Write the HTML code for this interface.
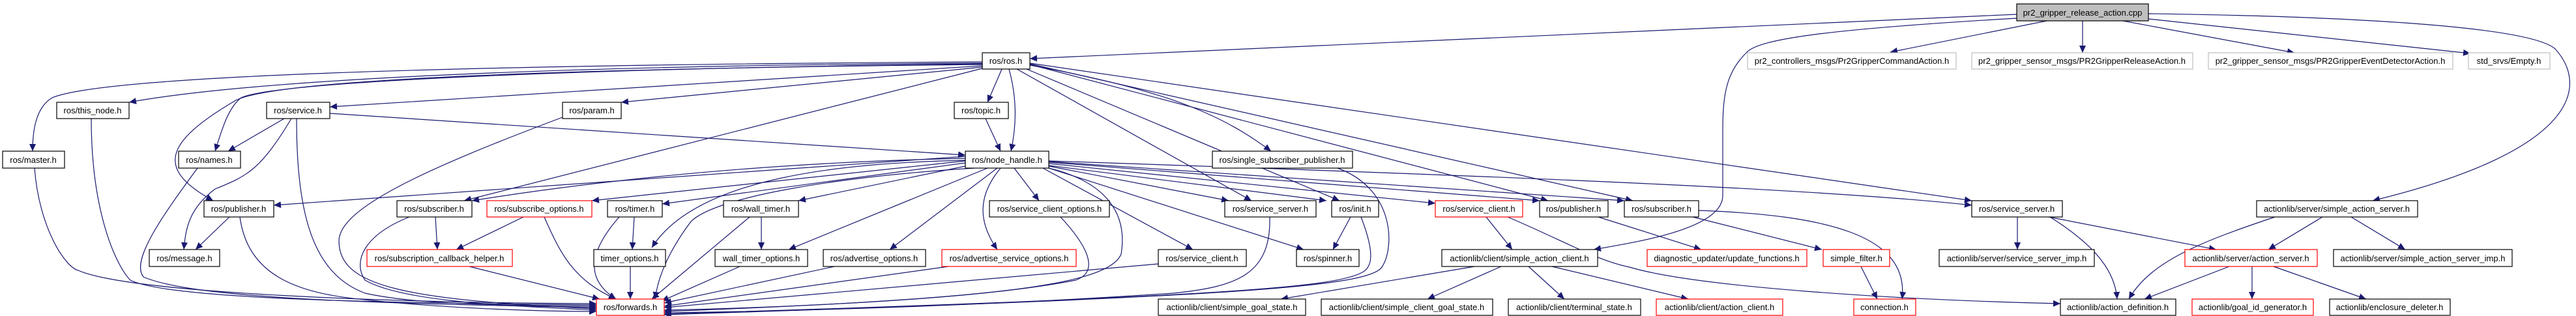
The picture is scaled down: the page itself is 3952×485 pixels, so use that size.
<!DOCTYPE html>
<html><head><meta charset="utf-8"><style>
html,body{margin:0;padding:0;background:#fff;}
svg{display:block}
text{font-family:"Liberation Sans",sans-serif;font-size:13px;fill:#000;text-anchor:middle}
.n{fill:#fff;stroke:#000;stroke-width:1.2}
.r{fill:#fff;stroke:#f00;stroke-width:1.2}
.g{fill:#fff;stroke:#bfbfbf;stroke-width:1.2}
.e{fill:none;stroke:#191970;stroke-width:1.2;marker-end:url(#a)}
</style></head><body>
<svg width="3952" height="485" viewBox="0 0 3952 485" xmlns="http://www.w3.org/2000/svg">
<defs><marker id="a" markerUnits="userSpaceOnUse" markerWidth="12" markerHeight="10" refX="11" refY="5" orient="auto"><path d="M0,0 L11,5 L0,10 z" fill="#191970"/></marker></defs>
<g>
<path class="e" d="M3094,22 L1580,90"/>
<path class="e" d="M3140,32 L2900,80"/>
<path class="e" d="M3094,28 C2800,45 2700,60 2680,80 C2650,110 2643,140 2643,200 L2643,300 C2643,350 2520,370 2445,383"/>
<path class="e" d="M3195,32 L3195,81"/>
<path class="e" d="M3257,32 L3520,81"/>
<path class="e" d="M3296,29 L3790,82"/>
<path class="e" d="M3296,21 C3600,25 3880,40 3920,75 C3970,130 3960,230 3640,308"/>
<path class="e" d="M1507,95 C600,100 150,120 80,150 C55,165 50,200 50,232"/>
<path class="e" d="M1507,97 C900,100 400,120 198,157"/>
<path class="e" d="M1507,98 C900,105 420,125 370,150 C350,165 340,200 330,232"/>
<path class="e" d="M1507,99 C900,105 420,120 360,155 C250,220 240,260 327,308"/>
<path class="e" d="M1507,101 L506,164"/>
<path class="e" d="M1507,103 L953,157"/>
<path class="e" d="M1507,105 L712,308"/>
<path class="e" d="M1537,106 L1515,157"/>
<path class="e" d="M1548,106 C1560,150 1560,190 1551,232"/>
<path class="e" d="M1560,106 L1920,308"/>
<path class="e" d="M1575,106 L2055,308"/>
<path class="e" d="M1580,100 C1800,140 1880,180 1950,232"/>
<path class="e" d="M1580,99 L2375,308"/>
<path class="e" d="M1580,98 L2505,308"/>
<path class="e" d="M1580,97 L3025,308"/>
<path class="e" d="M436,182 L350,232"/>
<path class="e" d="M447,182 C400,260 380,270 330,290 C290,320 285,350 282,383"/>
<path class="e" d="M455,182 C455,330 480,420 560,450 C650,470 800,468 915,470"/>
<path class="e" d="M506,174 L1481,238"/>
<path class="e" d="M140,182 C140,330 180,410 200,430 C260,460 600,465 915,468"/>
<path class="e" d="M53,258 C60,350 100,410 120,415 C200,450 600,465 915,466"/>
<path class="e" d="M303,258 C250,330 200,400 220,425 C300,460 600,466 915,472"/>
<path class="e" d="M863,180 C650,260 520,320 520,370 C520,440 620,460 915,474"/>
<path class="e" d="M1512,182 L1535,232"/>
<path class="e" d="M1481,240 L420,315"/>
<path class="e" d="M1481,243 C1150,250 900,280 724,308"/>
<path class="e" d="M1481,247 L908,308"/>
<path class="e" d="M1481,250 L1016,313"/>
<path class="e" d="M1481,255 L1225,308"/>
<path class="e" d="M1481,246 C1300,250 1070,270 1000,380"/>
<path class="e" d="M1515,258 L1210,383"/>
<path class="e" d="M1530,258 L1365,383"/>
<path class="e" d="M1535,258 C1500,300 1500,340 1530,383"/>
<path class="e" d="M1556,258 L1594,308"/>
<path class="e" d="M1600,258 L1830,383"/>
<path class="e" d="M1609,255 L1885,308"/>
<path class="e" d="M1609,258 L2000,383"/>
<path class="e" d="M1609,254 L2035,308"/>
<path class="e" d="M1609,251 L2202,312"/>
<path class="e" d="M1609,249 L2362,308"/>
<path class="e" d="M1609,248 L2492,308"/>
<path class="e" d="M1609,247 C2300,270 2800,290 3025,315"/>
<path class="e" d="M1495,258 C1300,270 1100,300 1060,340 C1030,380 1010,420 1005,459"/>
<path class="e" d="M1609,258 C1700,280 1730,330 1720,390 C1700,440 1500,460 1019,478"/>
<path class="e" d="M628,333 C560,360 540,400 560,430 C620,465 800,470 915,476"/>
<path class="e" d="M668,333 L671,383"/>
<path class="e" d="M803,333 L700,383"/>
<path class="e" d="M835,333 C860,390 880,430 945,459"/>
<path class="e" d="M352,333 L300,383"/>
<path class="e" d="M368,333 C380,420 450,450 560,460 C700,475 850,478 915,478"/>
<path class="e" d="M973,333 L970,383"/>
<path class="e" d="M950,333 C900,390 900,430 945,459"/>
<path class="e" d="M720,409 L920,459"/>
<path class="e" d="M967,409 L967,459"/>
<path class="e" d="M1168,333 L1168,383"/>
<path class="e" d="M1150,333 L1000,459"/>
<path class="e" d="M1135,409 L1015,462"/>
<path class="e" d="M1280,409 L1019,465"/>
<path class="e" d="M1455,409 L1019,470"/>
<path class="e" d="M1777,405 L1019,472"/>
<path class="e" d="M1627,333 C1680,390 1680,420 1650,430 C1500,460 1200,472 1019,476"/>
<path class="e" d="M1948,333 C1950,420 1900,440 1800,450 C1500,470 1200,478 1019,480"/>
<path class="e" d="M2072,333 L2045,383"/>
<path class="e" d="M2088,333 C2110,390 2105,410 2090,418 C2050,440 1900,455 1019,482"/>
<path class="e" d="M2052,258 C2140,290 2140,380 2120,410 C2100,440 1900,455 1019,483"/>
<path class="e" d="M2262,409 L1965,459"/>
<path class="e" d="M2303,409 L2190,459"/>
<path class="e" d="M2345,409 L2400,459"/>
<path class="e" d="M2381,409 L2590,459"/>
<path class="e" d="M2280,333 L2320,383"/>
<path class="e" d="M2313,333 C2400,370 2450,400 2500,410 C2600,440 2900,460 3161,466"/>
<path class="e" d="M2452,333 L2610,383"/>
<path class="e" d="M2597,333 L2795,383"/>
<path class="e" d="M2606,323 C2800,330 2930,360 2918,459"/>
<path class="e" d="M2855,409 L2880,459"/>
<path class="e" d="M3095,333 L3095,383"/>
<path class="e" d="M3143,333 L3400,383"/>
<path class="e" d="M3145,333 C3220,380 3245,420 3248,459"/>
<path class="e" d="M3563,333 L3480,383"/>
<path class="e" d="M3607,333 L3690,383"/>
<path class="e" d="M3490,333 C3380,370 3300,400 3266,459"/>
<path class="e" d="M3420,409 L3290,459"/>
<path class="e" d="M3455,409 L3455,459"/>
<path class="e" d="M3488,409 L3630,459"/>
</g>
<g>
<rect x="3094" y="6" width="202" height="26" style="fill:#bfbfbf;stroke:#000;stroke-width:1.2"/><text x="3195" y="24">pr2_gripper_release_action.cpp</text>
<rect class="n" x="1507" y="81" width="73" height="25"/><text x="1543" y="98">ros/ros.h</text>
<rect class="g" x="2681" y="81" width="320" height="25"/><text x="2841" y="98">pr2_controllers_msgs/Pr2GripperCommandAction.h</text>
<rect class="g" x="3025" y="81" width="339" height="25"/><text x="3194" y="98">pr2_gripper_sensor_msgs/PR2GripperReleaseAction.h</text>
<rect class="g" x="3388" y="81" width="375" height="25"/><text x="3575" y="98">pr2_gripper_sensor_msgs/PR2GripperEventDetectorAction.h</text>
<rect class="g" x="3787" y="81" width="125" height="25"/><text x="3849" y="98">std_srvs/Empty.h</text>
<rect class="n" x="87" y="157" width="111" height="25"/><text x="142" y="174">ros/this_node.h</text>
<rect class="n" x="409" y="157" width="97" height="25"/><text x="457" y="174">ros/service.h</text>
<rect class="n" x="863" y="157" width="90" height="25"/><text x="908" y="174">ros/param.h</text>
<rect class="n" x="1464" y="157" width="83" height="25"/><text x="1505" y="174">ros/topic.h</text>
<rect class="n" x="4" y="232" width="95" height="26"/><text x="51" y="250">ros/master.h</text>
<rect class="n" x="274" y="232" width="95" height="26"/><text x="321" y="250">ros/names.h</text>
<rect class="n" x="1481" y="232" width="128" height="26"/><text x="1545" y="250">ros/node_handle.h</text>
<rect class="n" x="1860" y="232" width="215" height="26"/><text x="1967" y="250">ros/single_subscriber_publisher.h</text>
<rect class="n" x="313" y="308" width="107" height="25"/><text x="366" y="325">ros/publisher.h</text>
<rect class="n" x="609" y="308" width="115" height="25"/><text x="666" y="325">ros/subscriber.h</text>
<rect class="r" x="747" y="308" width="161" height="25"/><text x="827" y="325">ros/subscribe_options.h</text>
<rect class="n" x="932" y="308" width="84" height="25"/><text x="974" y="325">ros/timer.h</text>
<rect class="n" x="1110" y="308" width="115" height="25"/><text x="1167" y="325">ros/wall_timer.h</text>
<rect class="n" x="1518" y="308" width="184" height="25"/><text x="1610" y="325">ros/service_client_options.h</text>
<rect class="n" x="1879" y="308" width="140" height="25"/><text x="1949" y="325">ros/service_server.h</text>
<rect class="n" x="2043" y="308" width="72" height="25"/><text x="2079" y="325">ros/init.h</text>
<rect class="r" x="2202" y="308" width="134" height="25"/><text x="2269" y="325">ros/service_client.h</text>
<rect class="n" x="2362" y="308" width="105" height="25"/><text x="2414" y="325">ros/publisher.h</text>
<rect class="n" x="2492" y="308" width="114" height="25"/><text x="2549" y="325">ros/subscriber.h</text>
<rect class="n" x="3025" y="308" width="139" height="25"/><text x="3094" y="325">ros/service_server.h</text>
<rect class="n" x="3462" y="308" width="247" height="25"/><text x="3585" y="325">actionlib/server/simple_action_server.h</text>
<rect class="n" x="229" y="383" width="108" height="26"/><text x="283" y="401">ros/message.h</text>
<rect class="r" x="563" y="383" width="223" height="26"/><text x="674" y="401">ros/subscription_callback_helper.h</text>
<rect class="n" x="911" y="383" width="110" height="26"/><text x="966" y="401">timer_options.h</text>
<rect class="n" x="1097" y="383" width="142" height="26"/><text x="1168" y="401">wall_timer_options.h</text>
<rect class="n" x="1263" y="383" width="157" height="26"/><text x="1341" y="401">ros/advertise_options.h</text>
<rect class="r" x="1445" y="383" width="206" height="26"/><text x="1548" y="401">ros/advertise_service_options.h</text>
<rect class="n" x="1777" y="383" width="135" height="26"/><text x="1844" y="401">ros/service_client.h</text>
<rect class="n" x="1989" y="383" width="96" height="26"/><text x="2037" y="401">ros/spinner.h</text>
<rect class="n" x="2212" y="383" width="239" height="26"/><text x="2331" y="401">actionlib/client/simple_action_client.h</text>
<rect class="r" x="2527" y="383" width="245" height="26"/><text x="2649" y="401">diagnostic_updater/update_functions.h</text>
<rect class="r" x="2797" y="383" width="102" height="26"/><text x="2848" y="401">simple_filter.h</text>
<rect class="n" x="2975" y="383" width="238" height="26"/><text x="3094" y="401">actionlib/server/service_server_imp.h</text>
<rect class="r" x="3352" y="383" width="203" height="26"/><text x="3453" y="401">actionlib/server/action_server.h</text>
<rect class="n" x="3580" y="383" width="274" height="26"/><text x="3717" y="401">actionlib/server/simple_action_server_imp.h</text>
<rect class="r" x="915" y="459" width="104" height="25"/><text x="967" y="476">ros/forwards.h</text>
<rect class="n" x="1777" y="459" width="226" height="25"/><text x="1890" y="476">actionlib/client/simple_goal_state.h</text>
<rect class="n" x="2027" y="459" width="263" height="25"/><text x="2158" y="476">actionlib/client/simple_client_goal_state.h</text>
<rect class="n" x="2314" y="459" width="203" height="25"/><text x="2415" y="476">actionlib/client/terminal_state.h</text>
<rect class="r" x="2541" y="459" width="194" height="25"/><text x="2638" y="476">actionlib/client/action_client.h</text>
<rect class="r" x="2844" y="459" width="95" height="25"/><text x="2891" y="476">connection.h</text>
<rect class="n" x="3161" y="459" width="177" height="25"/><text x="3249" y="476">actionlib/action_definition.h</text>
<rect class="r" x="3363" y="459" width="186" height="25"/><text x="3456" y="476">actionlib/goal_id_generator.h</text>
<rect class="n" x="3574" y="459" width="185" height="25"/><text x="3666" y="476">actionlib/enclosure_deleter.h</text>
</g>
</svg>
</body></html>
